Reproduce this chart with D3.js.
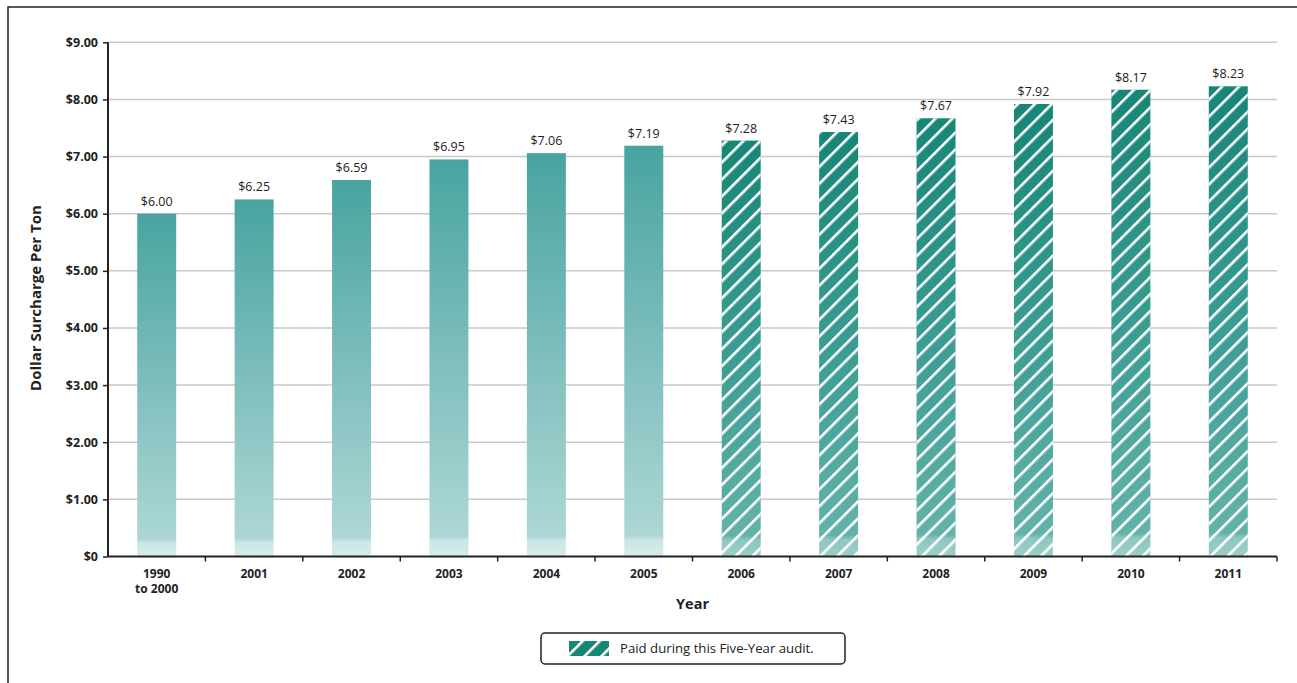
<!DOCTYPE html>
<html><head><meta charset="utf-8">
<script src="https://cdn.jsdelivr.net/npm/d3@7"></script>
<style>
html,body{margin:0;padding:0;background:#fff;}
text{font-family:"Open Sans","Noto Sans",sans-serif;}
</style></head>
<body><svg id="c" width="1297" height="683"></svg>
<script>
const categories = ["1990\nto 2000","2001","2002","2003","2004","2005","2006","2007","2008","2009","2010","2011"];
const values = [6.00,6.25,6.59,6.95,7.06,7.19,7.28,7.43,7.67,7.92,8.17,8.23];
const audited = [false,false,false,false,false,false,true,true,true,true,true,true];
const yTicks = [0,1,2,3,4,5,6,7,8,9];
const legendLabel = "Paid during this Five-Year audit.";

const svg = d3.select("#c");
const m = {l:108, r:1277, t:42.3, b:556.5};

const defs = svg.append("defs");
function grad(id, stops){
  const g = defs.append("linearGradient").attr("id",id).attr("x1",0).attr("y1",0).attr("x2",0).attr("y2",1);
  stops.forEach(s=>g.append("stop").attr("offset",s[0]).attr("stop-color",s[1]));
}
grad("gSolid",[[0,"#48a4a1"],[0.5,"#7ebebc"],[0.95,"#acd7d6"],[0.96,"#cce6e5"],[1,"#d6ecea"]]);
grad("gHatch",[[0,"#178676"],[0.5,"#3a9c92"],[0.95,"#62b2aa"],[0.96,"#8cc7c0"],[1,"#9dcfc9"]]);
const pat = defs.append("pattern").attr("id","hatch").attr("patternUnits","userSpaceOnUse")
  .attr("width",12).attr("height",12).attr("patternTransform","rotate(45)");
pat.append("rect").attr("x",0).attr("y",0).attr("width",2.6).attr("height",12).attr("fill","#fff");

// frame
svg.append("rect").attr("x",8).attr("y",7).attr("width",1310).attr("height",700)
  .attr("fill","none").attr("stroke","#222").attr("stroke-width",1.5);

const x = d3.scaleBand().domain(categories).range([m.l,m.r]).paddingInner(0.6).paddingOuter(0.3);
const y = d3.scaleLinear().domain([0,9]).range([m.b,m.t]);

// grid
svg.append("g").selectAll("line").data(yTicks.filter(d=>d>0)).join("line")
  .attr("x1",m.l).attr("x2",m.r).attr("y1",d=>y(d)).attr("y2",d=>y(d))
  .attr("stroke","#c9c9c9").attr("stroke-width",1.5);

// bars
const bars = svg.append("g");
categories.forEach((c,i)=>{
  const bx = x(c), bw = x.bandwidth(), by = y(values[i]), bh = y(0)-y(values[i]);
  bars.append("rect").attr("x",bx).attr("y",by).attr("width",bw).attr("height",bh)
    .attr("fill", audited[i] ? "url(#gHatch)" : "url(#gSolid)");
  if(audited[i]) bars.append("rect").attr("x",bx).attr("y",by).attr("width",bw).attr("height",bh)
    .attr("fill","url(#hatch)");
  bars.append("text").attr("x",bx+bw/2).attr("y",by-8).attr("text-anchor","middle")
    .attr("font-size",12.5).attr("fill","#222").text("$"+values[i].toFixed(2));
});

// y axis
const yAxis = svg.append("g").attr("transform",`translate(${m.l},0)`)
  .call(d3.axisLeft(y).tickValues(yTicks).tickSize(5).tickPadding(5)
    .tickFormat(d=>d===0?"$0":"$"+d.toFixed(2)));
yAxis.select(".domain").attr("stroke","#222").attr("stroke-width",2).attr("d",`M0,${m.t}V${m.b}`);
yAxis.selectAll(".tick line").attr("stroke","#222").attr("stroke-width",1.5);
yAxis.selectAll(".tick text").attr("font-size",12.5).attr("font-weight","bold").attr("fill","#222")
  .style("font-family",'"Open Sans",sans-serif');

// x axis
const xAxis = svg.append("g").attr("transform",`translate(0,${m.b})`)
  .call(d3.axisBottom(x).tickSize(0).tickPadding(10));
xAxis.select(".domain").attr("stroke","#222").attr("stroke-width",2).attr("d",`M${m.l},0H${m.r}`);
xAxis.selectAll(".tick text").remove();
xAxis.selectAll(".tick").each(function(d){
  const t = d3.select(this).append("text").attr("text-anchor","middle").attr("font-size",12)
    .attr("font-weight","bold").attr("fill","#222").style("font-family",'"Open Sans",sans-serif');
  d.split("\n").forEach((s,k)=>t.append("tspan").attr("x",0).attr("y",21+k*15).text(s));
});
// boundary ticks
const step = x.step();
svg.append("g").selectAll("line").data(d3.range(1,categories.length+1)).join("line")
  .attr("x1",d=>m.l+d*step).attr("x2",d=>m.l+d*step).attr("y1",m.b).attr("y2",m.b+5)
  .attr("stroke","#222").attr("stroke-width",1.5);

// titles
svg.append("text").attr("x",(m.l+m.r)/2).attr("y",609).attr("text-anchor","middle")
  .attr("font-size",14.5).attr("font-weight","bold").attr("fill","#222").text("Year");
svg.append("text").attr("transform","translate(41,298) rotate(-90)").attr("text-anchor","middle")
  .attr("font-size",15).attr("font-weight","bold").attr("fill","#222").text("Dollar Surcharge Per Ton");

// legend
const lg = svg.append("g");
lg.append("rect").attr("x",541).attr("y",633).attr("width",304).attr("height",31).attr("rx",4)
  .attr("fill","#fff").attr("stroke","#222").attr("stroke-width",1.5);
lg.append("rect").attr("x",569).attr("y",641).attr("width",40).attr("height",15).attr("fill","#178676");
lg.append("rect").attr("x",569).attr("y",641).attr("width",40).attr("height",15).attr("fill","url(#hatch)");
lg.append("text").attr("x",620).attr("y",653).attr("font-size",13.2).attr("fill","#222").text(legendLabel);
</script></body></html>
